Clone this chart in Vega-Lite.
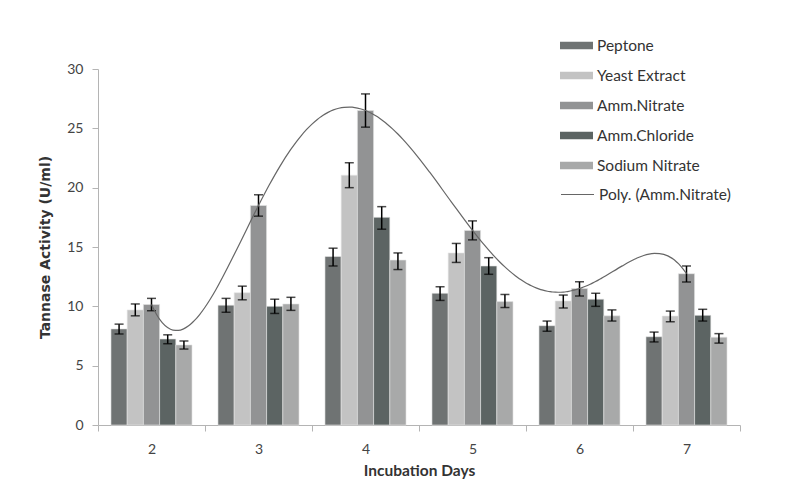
{
  "$schema": "https://vega.github.io/schema/vega-lite/v6.json",
  "width": 642,
  "height": 356,
  "autosize": {"type": "none"},
  "padding": {"left": 98, "top": 69, "right": 72, "bottom": 68},
  "background": "white",
  "config": {"view": {"stroke": null}, "font": "Lato"},
  "data": {"values": [
    {"Day": 2, "Source": "Peptone", "Activity": 8.1, "Lo": 7.67, "Hi": 8.5},
    {"Day": 2, "Source": "Yeast Extract", "Activity": 9.7, "Lo": 9.2, "Hi": 10.2},
    {"Day": 2, "Source": "Amm.Nitrate", "Activity": 10.15, "Lo": 9.63, "Hi": 10.67},
    {"Day": 2, "Source": "Amm.Chloride", "Activity": 7.25, "Lo": 6.85, "Hi": 7.6},
    {"Day": 2, "Source": "Sodium Nitrate", "Activity": 6.75, "Lo": 6.4, "Hi": 7.08},
    {"Day": 3, "Source": "Peptone", "Activity": 10.1, "Lo": 9.5, "Hi": 10.67},
    {"Day": 3, "Source": "Yeast Extract", "Activity": 11.15, "Lo": 10.55, "Hi": 11.7},
    {"Day": 3, "Source": "Amm.Nitrate", "Activity": 18.5, "Lo": 17.6, "Hi": 19.4},
    {"Day": 3, "Source": "Amm.Chloride", "Activity": 10.0, "Lo": 9.4, "Hi": 10.6},
    {"Day": 3, "Source": "Sodium Nitrate", "Activity": 10.2, "Lo": 9.66, "Hi": 10.76},
    {"Day": 4, "Source": "Peptone", "Activity": 14.2, "Lo": 13.4, "Hi": 14.9},
    {"Day": 4, "Source": "Yeast Extract", "Activity": 21.05, "Lo": 20.0, "Hi": 22.1},
    {"Day": 4, "Source": "Amm.Nitrate", "Activity": 26.5, "Lo": 25.1, "Hi": 27.9},
    {"Day": 4, "Source": "Amm.Chloride", "Activity": 17.5, "Lo": 16.5, "Hi": 18.4},
    {"Day": 4, "Source": "Sodium Nitrate", "Activity": 13.9, "Lo": 13.1, "Hi": 14.5},
    {"Day": 5, "Source": "Peptone", "Activity": 11.1, "Lo": 10.5, "Hi": 11.65},
    {"Day": 5, "Source": "Yeast Extract", "Activity": 14.5, "Lo": 13.7, "Hi": 15.3},
    {"Day": 5, "Source": "Amm.Nitrate", "Activity": 16.4, "Lo": 15.6, "Hi": 17.2},
    {"Day": 5, "Source": "Amm.Chloride", "Activity": 13.4, "Lo": 12.7, "Hi": 14.1},
    {"Day": 5, "Source": "Sodium Nitrate", "Activity": 10.4, "Lo": 9.9, "Hi": 11.0},
    {"Day": 6, "Source": "Peptone", "Activity": 8.37, "Lo": 7.9, "Hi": 8.76},
    {"Day": 6, "Source": "Yeast Extract", "Activity": 10.45, "Lo": 9.86, "Hi": 10.95},
    {"Day": 6, "Source": "Amm.Nitrate", "Activity": 11.5, "Lo": 10.87, "Hi": 12.07},
    {"Day": 6, "Source": "Amm.Chloride", "Activity": 10.6, "Lo": 10.0, "Hi": 11.1},
    {"Day": 6, "Source": "Sodium Nitrate", "Activity": 9.2, "Lo": 8.76, "Hi": 9.7},
    {"Day": 7, "Source": "Peptone", "Activity": 7.44, "Lo": 7.0, "Hi": 7.83},
    {"Day": 7, "Source": "Yeast Extract", "Activity": 9.18, "Lo": 8.7, "Hi": 9.6},
    {"Day": 7, "Source": "Amm.Nitrate", "Activity": 12.75, "Lo": 12.05, "Hi": 13.4},
    {"Day": 7, "Source": "Amm.Chloride", "Activity": 9.24, "Lo": 8.76, "Hi": 9.75},
    {"Day": 7, "Source": "Sodium Nitrate", "Activity": 7.4, "Lo": 6.9, "Hi": 7.7}
  ]},
  "layer": [
    {
      "encoding": {
        "x": {
          "field": "Day", "type": "ordinal",
          "scale": {"paddingInner": 0, "paddingOuter": 0},
          "axis": {
            "title": "Incubation Days", "labelAngle": 0, "tickBand": "extent",
            "domainColor": "#b4b4b4", "tickColor": "#b4b4b4", "tickSize": 6,
            "labelFontSize": 14, "labelColor": "#444", "labelPadding": 11,
            "titleFontSize": 15.5, "titleFontWeight": "bold", "titleColor": "#333", "titlePadding": 7
          }
        },
        "xOffset": {
          "field": "Source", "type": "nominal",
          "sort": ["Peptone", "Yeast Extract", "Amm.Nitrate", "Amm.Chloride", "Sodium Nitrate"],
          "scale": {"paddingInner": 0, "paddingOuter": 0.8}
        }
      },
      "layer": [
        {
          "mark": {"type": "bar", "stroke": "#e6e6e6", "strokeWidth": 0.6},
          "encoding": {
            "y": {
              "field": "Activity", "type": "quantitative",
              "scale": {"domain": [0, 30], "nice": false},
              "axis": {
                "title": "Tannase Activity (U/ml)", "values": [0, 5, 10, 15, 20, 25, 30], "grid": false,
                "domainColor": "#b4b4b4", "tickColor": "#b4b4b4", "tickSize": 6,
                "labelFontSize": 14, "labelColor": "#444", "labelPadding": 9,
                "titleFont": "DejaVu Sans", "titleFontSize": 14, "titleFontWeight": "bold", "titleColor": "#333", "titlePadding": 14
              }
            },
            "fill": {
              "field": "Source", "type": "nominal",
              "scale": {
                "domain": ["Peptone", "Yeast Extract", "Amm.Nitrate", "Amm.Chloride", "Sodium Nitrate"],
                "range": ["#6f7373", "#c3c3c3", "#929394", "#5c6463", "#a8a9a9"]
              },
              "legend": {
                "orient": "none", "legendX": 462, "legendY": -40, "title": null,
                "symbolType": "M-1,-0.22H1V0.22H-1Z", "symbolSize": 1089, "symbolStrokeWidth": 0,
                "labelFont": "Lato", "labelFontSize": 15.5, "labelColor": "#333",
                "rowPadding": 5, "labelOffset": 4
              }
            }
          }
        },
        {
          "mark": {"type": "rule", "color": "black", "strokeWidth": 1.5},
          "encoding": {
            "y": {"field": "Lo", "type": "quantitative"},
            "y2": {"field": "Hi"}
          }
        },
        {
          "mark": {"type": "tick", "color": "black", "thickness": 1.5, "size": 9},
          "encoding": {"y": {"field": "Lo", "type": "quantitative"}}
        },
        {
          "mark": {"type": "tick", "color": "black", "thickness": 1.5, "size": 9},
          "encoding": {"y": {"field": "Hi", "type": "quantitative"}}
        }
      ]
    },
    {
      "transform": [
        {"filter": "datum.Source === 'Amm.Nitrate'"},
        {"regression": "Activity", "on": "Day", "method": "poly", "order": 5, "extent": [2, 7]}
      ],
      "mark": {"type": "line", "strokeWidth": 1.2, "interpolate": "monotone"},
      "encoding": {
        "x": {"field": "Day", "type": "quantitative", "scale": {"domain": [1.5, 7.5], "nice": false, "zero": false}, "axis": null},
        "y": {"field": "Activity", "type": "quantitative"},
        "stroke": {
          "datum": "Poly. (Amm.Nitrate)",
          "scale": {"domain": ["Poly. (Amm.Nitrate)"], "range": ["#666666"]},
          "legend": {
            "orient": "none", "legendX": 462, "legendY": 108, "title": null,
            "symbolType": "stroke", "symbolSize": 1089, "symbolStrokeWidth": 1.2,
            "labelFont": "Lato", "labelFontSize": 15.5, "labelColor": "#333", "labelOffset": 4
          }
        }
      }
    }
  ],
  "resolve": {"scale": {"x": "independent"}}
}
